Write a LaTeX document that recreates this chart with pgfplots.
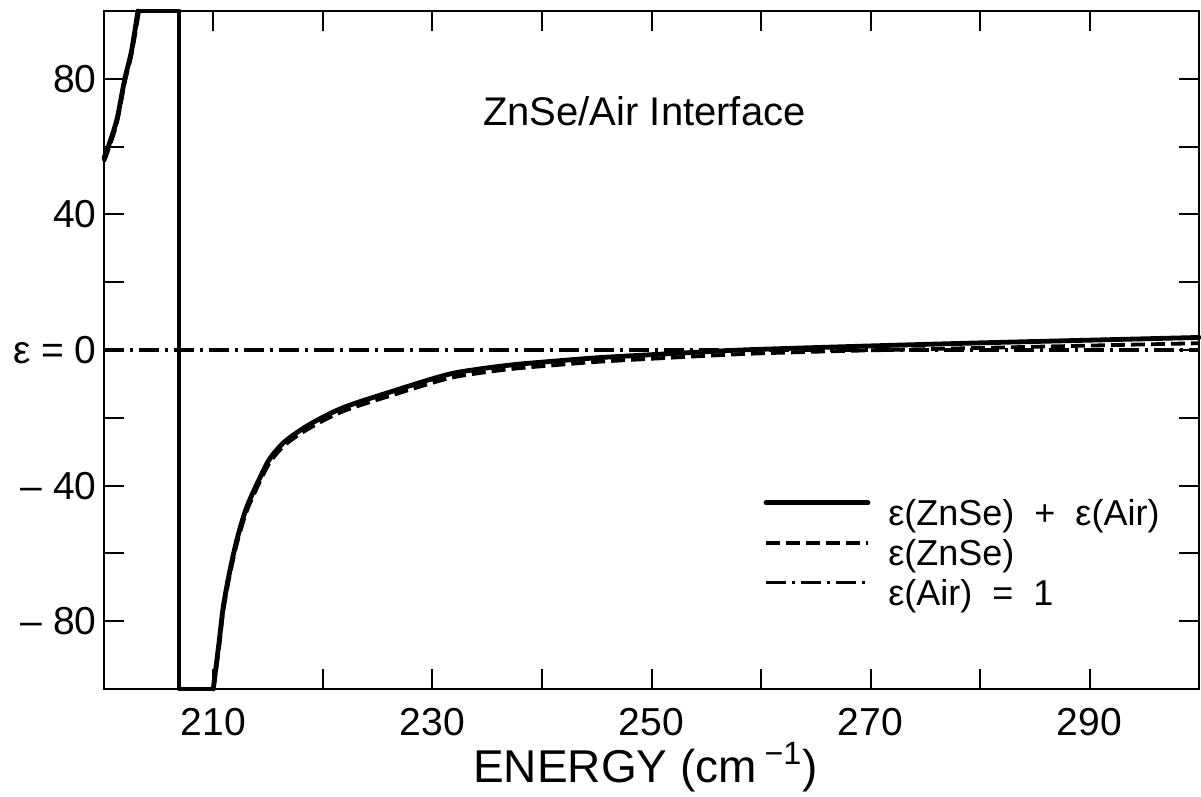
\documentclass[border=0pt]{standalone}
\usepackage{fontspec}
\setmainfont{Liberation Sans}
\usepackage{pgfplots}
\pgfplotsset{compat=1.18}
\begin{document}
\begin{tikzpicture}
\begin{axis}[
  at={(0,0)}, anchor=south west,
  scale only axis, width=547.5pt, height=339pt,
  xmin=200, xmax=300, ymin=-100, ymax=100,
  axis line style={line width=1.35pt},
  tick style={line width=1pt, black},
  major tick length=10pt, minor tick length=10pt,
  tick align=inside, tick pos=both,
  xtick={210,230,250,270,290}, xticklabels={210,230,250,270,290},
  minor xtick={220,240,260,280},
  ytick={-80,-40,0,40,80}, yticklabels={{–\ 80},{–\ 40},{ε\ =\ 0},40,80},
  minor ytick={-60,-20,20,60},
  every tick label/.append style={font=\fontsize{19.5pt}{19.5pt}\selectfont, inner sep=0pt},
  xticklabel style={yshift=-9.5pt},
  yticklabel style={xshift=-3.5pt},
  xlabel={ENERGY (cm\,\textsuperscript{−1})},
  xlabel style={font=\fontsize{23pt}{23pt}\selectfont, at={(axis description cs:0.5,0)}, anchor=base, yshift=-47pt, xshift=-3pt, inner sep=0pt},
  clip=false,
  legend cell align=left,
  legend image code/.code={\draw[#1] (0pt,6.5pt) -- (51pt,6.5pt);},
  legend style={draw=none, fill=none, inner sep=0pt, row sep=0pt,
    at={(axis cs:260.2,-42.9)}, anchor=north west,
    font=\fontsize{18pt}{18pt}\selectfont,
    nodes={inner sep=0pt, text height=15pt, text depth=5pt},
    /tikz/every odd column/.append style={column sep=9pt}},
  solidline/.style={black, line width=2.4pt, line join=round, line cap=round},
  dashedline/.style={black, line width=1.9pt, dash pattern=on 7pt off 3pt},
]
% eps(ZnSe) + eps(Air)
\addplot[solidline, smooth, tension=0.5] coordinates {
(209.98,-100)(210.53,-85.6)(210.89,-75.8)(211.44,-66.0)(212.12,-56.2)(213.03,-46.4)(214.40,-36.6)(215.22,-31.7)
(216.59,-26.8)(218.81,-21.9)(221.85,-17.0)(226.42,-12.1)(231.3,-7.3)(234.3,-5.6)(237.5,-4.3)(240.7,-3.4)
(245,-2.3)(249.9,-1.4)(254.5,-0.6)(259,0.1)(270,1.2)(280,2.1)(290,2.9)(300,3.7)};
\addlegendentry{ε(ZnSe) \ + \ ε(Air)}
\addplot[solidline, smooth, tension=0.5, forget plot] coordinates {
(200,56.6)(200.55,61.5)(201.2,68.3)(201.9,80)(202.5,88)(203.1,100)};
\addplot[solidline, forget plot] coordinates {
(203.1,100)(206.85,100)(206.85,-100)(209.98,-100)};
% eps(ZnSe)
\addplot[dashedline, smooth, tension=0.5] coordinates {
(210.0,-100)(210.55,-86.6)(210.9,-76.8)(211.45,-67)(212.13,-57.2)(213.05,-47.4)(214.42,-37.6)(215.25,-32.7)
(216.6,-27.8)(218.85,-22.9)(221.9,-18.0)(226.45,-13.2)(231.3,-8.5)(234.3,-6.8)(237.5,-5.5)(240.7,-4.6)
(245,-3.5)(249.9,-2.6)(254.5,-1.8)(259,-1.1)(265,-0.5)(270,-0.1)(280,0.6)(290,1.3)(300,2.0)};
\addlegendentry{ε(ZnSe)}
\addplot[dashedline, smooth, tension=0.5, forget plot] coordinates {
(200,55.6)(200.55,60.5)(201.2,67.3)(201.9,79)(202.5,87)(203.2,100)};
% eps(Air)
\addplot[black, line width=1.6pt, dash pattern=on 10pt off 3pt on 1.5pt off 3pt] coordinates {(200,0)(300,0)};
\addlegendentry{ε(Air) \ = \ 1}
\node[anchor=base west, font=\fontsize{20pt}{20pt}\selectfont, inner sep=0pt] at (axis cs:234.6,66.2) {ZnSe/Air Interface};
\end{axis}
\pgfresetboundingbox
\useasboundingbox (-52pt,-54pt) rectangle (548.5pt,344.5pt);
\end{tikzpicture}
\end{document}
